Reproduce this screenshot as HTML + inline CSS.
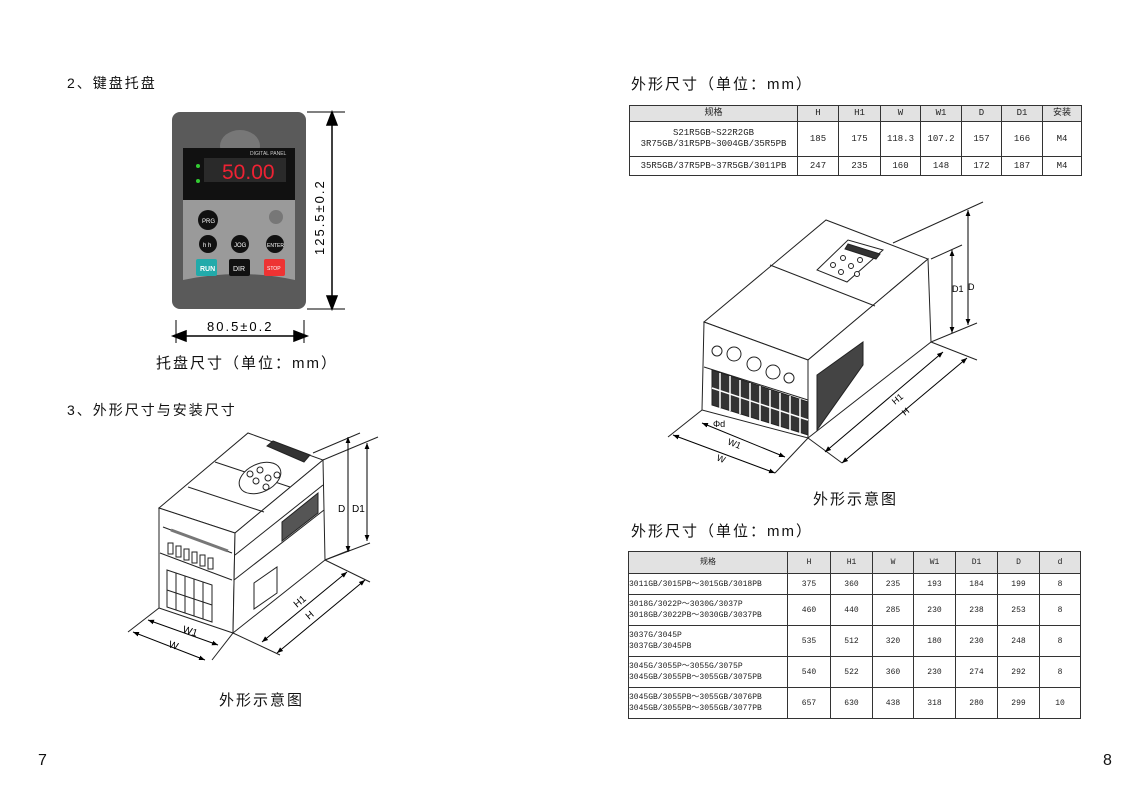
<!DOCTYPE html>
<html><head><meta charset="utf-8"><style>
body{margin:0;width:1141px;height:793px;background:#fff;position:relative;overflow:hidden;font-family:"Liberation Sans","Noto Sans CJK SC",sans-serif;color:#111}
.t{position:absolute;font-size:14px;letter-spacing:2px;white-space:nowrap}
table{position:absolute;border-collapse:collapse;font-family:"Liberation Mono","Noto Sans CJK SC",monospace;font-size:9px;color:#222}
td{border:1px solid #333;text-align:center;padding:0;line-height:11px}
tr.h td{background:#e2e2e2}
td.l{text-align:left}
svg{position:absolute;left:0;top:0}
</style></head><body>
<div class="t" style="left:67px;top:73px">2、键盘托盘</div>
<div class="t" style="left:156px;top:352px;font-size:15px">托盘尺寸（单位：mm）</div>
<div class="t" style="left:67px;top:400px">3、外形尺寸与安装尺寸</div>
<div class="t" style="left:219px;top:689px;font-size:15px">外形示意图</div>
<div class="t" style="left:631px;top:73px;font-size:15px">外形尺寸（单位：mm）</div>
<div class="t" style="left:813px;top:488px;font-size:15px">外形示意图</div>
<div class="t" style="left:631px;top:520px;font-size:15px">外形尺寸（单位：mm）</div>
<div class="t" style="left:38px;top:752px;font-size:16px">7</div>
<div class="t" style="left:1103px;top:752px;font-size:16px">8</div>

<table style="left:629px;top:105px;width:453px">
<tr class="h" style="height:16px"><td style="width:167px">规格</td><td style="width:40px">H</td><td style="width:41px">H1</td><td style="width:39px">W</td><td style="width:40px">W1</td><td style="width:39px">D</td><td style="width:40px">D1</td><td>安装</td></tr>
<tr style="height:35px"><td>S21R5GB~S22R2GB<br>3R75GB/31R5PB~3004GB/35R5PB</td><td>185</td><td>175</td><td>118.3</td><td>107.2</td><td>157</td><td>166</td><td>M4</td></tr>
<tr style="height:19px"><td>35R5GB/37R5PB~37R5GB/3011PB</td><td>247</td><td>235</td><td>160</td><td>148</td><td>172</td><td>187</td><td>M4</td></tr>
</table>

<table style="left:628px;top:551px;width:453px;font-size:8px">
<tr class="h" style="height:22px"><td style="width:158px">规格</td><td style="width:42px">H</td><td style="width:41px">H1</td><td style="width:40px">W</td><td style="width:41px">W1</td><td style="width:41px">D1</td><td style="width:41px">D</td><td>d</td></tr>
<tr style="height:21px"><td class="l">3011GB/3015PB～3015GB/3018PB</td><td>375</td><td>360</td><td>235</td><td>193</td><td>184</td><td>199</td><td>8</td></tr>
<tr style="height:31px"><td class="l">3018G/3022P～3030G/3037P<br>3018GB/3022PB～3030GB/3037PB</td><td>460</td><td>440</td><td>285</td><td>230</td><td>238</td><td>253</td><td>8</td></tr>
<tr style="height:31px"><td class="l">3037G/3045P<br>3037GB/3045PB</td><td>535</td><td>512</td><td>320</td><td>180</td><td>230</td><td>248</td><td>8</td></tr>
<tr style="height:31px"><td class="l">3045G/3055P～3055G/3075P<br>3045GB/3055PB～3055GB/3075PB</td><td>540</td><td>522</td><td>360</td><td>230</td><td>274</td><td>292</td><td>8</td></tr>
<tr style="height:31px"><td class="l">3045GB/3055PB～3055GB/3076PB<br>3045GB/3055PB～3055GB/3077PB</td><td>657</td><td>630</td><td>438</td><td>318</td><td>280</td><td>299</td><td>10</td></tr>
</table>

<svg width="1141" height="793" xmlns="http://www.w3.org/2000/svg" font-family="Liberation Sans, sans-serif">
<defs><marker id="a" viewBox="0 0 10 10" refX="10" refY="5" markerWidth="6" markerHeight="6" orient="auto-start-reverse"><path d="M0 1 L10 5 L0 9Z" fill="#000"/></marker></defs>
<!-- keypad -->
<rect x="172" y="112" width="134" height="197" rx="8" fill="#5a5a5a"/>
<ellipse cx="240" cy="146" rx="20" ry="16" fill="#777"/>
<rect x="183" y="148" width="112" height="52" fill="#111"/>
<rect x="204" y="158" width="82" height="24" fill="#2a2a2a"/>
<text x="222" y="179" font-size="21" fill="#e23" font-family="Liberation Sans Narrow, Liberation Sans, sans-serif">50.00</text>
<text x="250" y="155" font-size="5" fill="#ccc">DIGITAL PANEL</text>
<circle cx="198" cy="166" r="2" fill="#3c3"/><circle cx="198" cy="181" r="2" fill="#3c3"/>
<path d="M183 200 H295 V280 Q240 268 183 280 Z" fill="#9a9a9a"/>
<circle cx="208" cy="220" r="10" fill="#111"/><text x="202" y="223" font-size="6" fill="#fff">PRG</text>
<circle cx="276" cy="217" r="7" fill="#777"/>
<circle cx="208" cy="244" r="9" fill="#111"/><text x="203" y="247" font-size="6" fill="#fff">h h</text>
<circle cx="240" cy="244" r="9" fill="#111"/><text x="234" y="247" font-size="6" fill="#fff">JOG</text>
<circle cx="275" cy="244" r="9" fill="#111"/><text x="267" y="247" font-size="5" fill="#fff">ENTER</text>
<rect x="196" y="259" width="21" height="17" rx="2" fill="#2aa"/><text x="200" y="271" font-size="7" fill="#fff" font-weight="bold">RUN</text>
<rect x="229" y="259" width="21" height="17" rx="2" fill="#111"/><text x="233" y="271" font-size="7" fill="#fff">DIR</text>
<rect x="264" y="259" width="21" height="17" rx="2" fill="#e33"/><text x="267" y="270" font-size="5" fill="#fff">STOP</text>
<g stroke="#000" stroke-width="1.5" fill="#000">
<line x1="332" y1="115" x2="332" y2="306"/><path d="M327 125 L332 112 L337 125Z M327 296 L332 309 L337 296Z"/>
<line x1="176" y1="336" x2="304" y2="336"/><path d="M186 331 L173 336 L186 341Z M294 331 L307 336 L294 341Z"/>
<line x1="176" y1="320" x2="176" y2="343" stroke-width="1"/><line x1="304" y1="320" x2="304" y2="343" stroke-width="1"/>
<line x1="307" y1="112" x2="345" y2="112" stroke-width="1"/><line x1="307" y1="309" x2="345" y2="309" stroke-width="1"/>
</g>
<text x="324" y="255" font-size="13" transform="rotate(-90 324 255)" letter-spacing="2">125.5±0.2</text>
<text x="207" y="331" font-size="13" letter-spacing="2">80.5±0.2</text>

<!-- small drive -->
<g stroke="#222" fill="#fff" stroke-width="1">
<polygon points="159,508 248,433 323,460 235,533"/>
<polygon points="159,508 235,533 233,633 159,608"/>
<polygon points="235,533 323,460 325,560 233,633"/>
<line x1="163" y1="527" x2="232" y2="553"/><line x1="160" y1="553" x2="232" y2="580"/>
<line x1="235" y1="555" x2="323" y2="485"/><line x1="234" y1="580" x2="324" y2="510"/>
<line x1="188" y1="487" x2="264" y2="512"/><line x1="215" y1="462" x2="290" y2="487"/>
<path d="M171 530 L228 551" stroke-width="3" stroke="#777"/>
<g fill="#fff"><rect x="168" y="543" width="5" height="11"/><rect x="176" y="546" width="5" height="11"/><rect x="184" y="549" width="5" height="11"/><rect x="192" y="552" width="5" height="11"/><rect x="200" y="555" width="5" height="11"/><rect x="208" y="558" width="5" height="11"/></g>
<polygon points="167,570 212,585 212,622 167,607" fill="#fff"/>
<line x1="176" y1="573" x2="176" y2="610"/><line x1="185" y1="576" x2="185" y2="613"/><line x1="194" y1="579" x2="194" y2="616"/><line x1="203" y1="582" x2="203" y2="619"/><line x1="167" y1="590" x2="212" y2="605"/>
<polygon points="282,522 318,493 318,513 282,541" fill="#555"/>
<polygon points="254,583 277,567 277,593 254,609"/>
<ellipse cx="260" cy="478" rx="22" ry="14" transform="rotate(-25 260 478)"/>
<polygon points="267,446 273,441 310,455 304,462" fill="#333"/>
<circle cx="250" cy="474" r="3"/><circle cx="260" cy="470" r="3"/><circle cx="268" cy="478" r="3"/><circle cx="256" cy="481" r="3"/><circle cx="266" cy="487" r="3"/><circle cx="277" cy="475" r="3"/>
<line x1="313" y1="453" x2="360" y2="433"/><line x1="323" y1="460" x2="378" y2="437"/>
<line x1="325" y1="560" x2="350" y2="550"/><line x1="325" y1="560" x2="370" y2="543"/>
<line x1="325" y1="560" x2="370" y2="582"/><line x1="233" y1="633" x2="280" y2="655"/>
<line x1="159" y1="608" x2="128" y2="632"/><line x1="233" y1="633" x2="212" y2="660"/>
</g>
<g stroke="#000" stroke-width="1" marker-start="url(#a)" marker-end="url(#a)">
<line x1="348" y1="437" x2="348" y2="552"/><line x1="367" y1="443" x2="367" y2="541"/>
<line x1="347" y1="572" x2="262" y2="642"/><line x1="365" y1="580" x2="277" y2="653"/>
<line x1="148" y1="620" x2="218" y2="645"/><line x1="133" y1="632" x2="205" y2="660"/>
</g>
<text x="182" y="632" font-size="10" transform="rotate(18 182 632)">W1</text><text x="168" y="647" font-size="10" transform="rotate(18 168 647)">W</text>
<text x="338" y="512" font-size="10">D</text><text x="352" y="512" font-size="10">D1</text>
<text x="297" y="608" font-size="10" transform="rotate(-40 297 608)">H1</text>
<text x="309" y="620" font-size="10" transform="rotate(-40 309 620)">H</text>

<!-- large drive -->
<g stroke="#222" fill="#fff" stroke-width="1">
<polygon points="704,322 826,220 928,259 808,360"/>
<polygon points="704,322 808,360 808,438 702,410"/>
<polygon points="808,360 928,259 931,342 808,438"/>
<line x1="704" y1="367" x2="808" y2="400"/>
<line x1="770" y1="265" x2="875" y2="306"/>
<polygon points="712,370 808,402 808,435 712,405" fill="#333"/>
<g stroke="#fff" stroke-width="1.5"><line x1="720" y1="373" x2="720" y2="408"/><line x1="730" y1="376" x2="730" y2="411"/><line x1="740" y1="380" x2="740" y2="414"/><line x1="750" y1="383" x2="750" y2="418"/><line x1="760" y1="386" x2="760" y2="421"/><line x1="770" y1="390" x2="770" y2="424"/><line x1="780" y1="393" x2="780" y2="428"/><line x1="790" y1="396" x2="790" y2="431"/><line x1="800" y1="399" x2="800" y2="434"/><line x1="712" y1="388" x2="808" y2="420"/></g>
<polygon points="817,375 863,342 863,365 817,430" fill="#444"/>
<polygon points="817,270 848,240 883,250 847,282" fill="#fff"/>
<polygon points="848,244 880,254 876,259 845,249" fill="#333"/>
<circle cx="833" cy="265" r="2.5"/><circle cx="843" cy="258" r="2.5"/><circle cx="851" cy="266" r="2.5"/><circle cx="841" cy="272" r="2.5"/><circle cx="857" cy="274" r="2.5"/><circle cx="860" cy="260" r="2.5"/>
<circle cx="717" cy="351" r="5"/><circle cx="734" cy="354" r="7"/><circle cx="754" cy="364" r="7"/><circle cx="773" cy="372" r="7"/><circle cx="789" cy="378" r="5"/>
<line x1="893" y1="243" x2="983" y2="202"/><line x1="931" y1="259" x2="962" y2="245"/>
<line x1="931" y1="342" x2="977" y2="360"/><line x1="931" y1="342" x2="977" y2="323"/>
<line x1="808" y1="438" x2="842" y2="463"/><line x1="702" y1="410" x2="668" y2="437"/><line x1="808" y1="438" x2="775" y2="473"/>
</g>
<g stroke="#000" stroke-width="1" marker-start="url(#a)" marker-end="url(#a)">
<line x1="968" y1="210" x2="968" y2="325"/><line x1="952" y1="250" x2="952" y2="333"/>
<line x1="943" y1="352" x2="825" y2="452"/><line x1="967" y1="358" x2="842" y2="463"/>
<line x1="673" y1="435" x2="775" y2="473"/><line x1="702" y1="423" x2="785" y2="457"/>
</g>
<text x="952" y="292" font-size="9">D1</text><text x="968" y="290" font-size="9">D</text>
<text x="713" y="427" font-size="9">Φd</text>
<text x="727" y="444" font-size="9" transform="rotate(22 727 444)">W1</text>
<text x="716" y="460" font-size="9" transform="rotate(22 716 460)">W</text>
<text x="895" y="405" font-size="9" transform="rotate(-40 895 405)">H1</text>
<text x="905" y="416" font-size="9" transform="rotate(-40 905 416)">H</text>
</svg>
</body></html>
